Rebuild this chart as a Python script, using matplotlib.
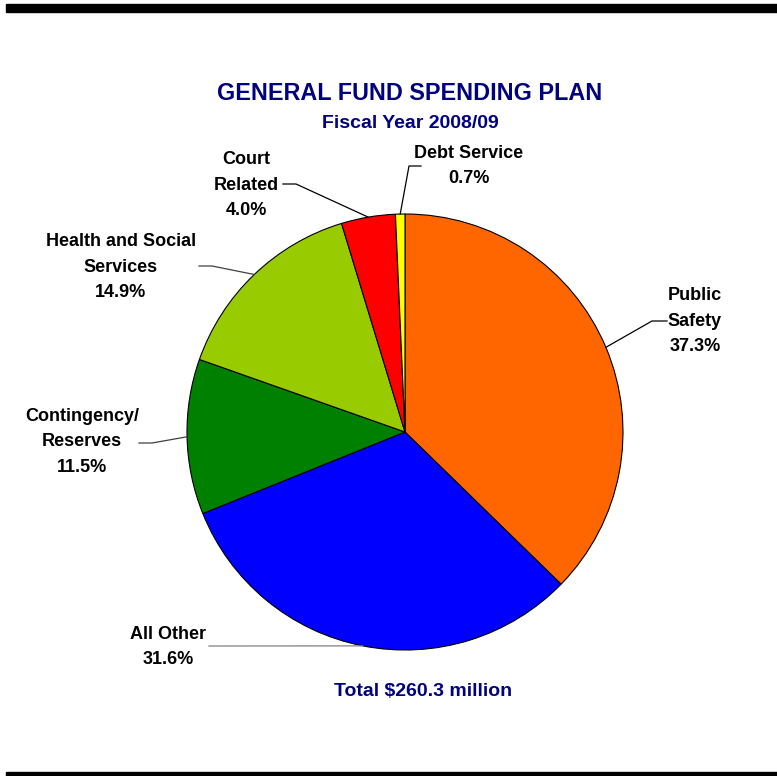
import numpy as np
import matplotlib
matplotlib.use("Agg")
import matplotlib.pyplot as plt
from matplotlib.patches import Rectangle

categories = ["Public Safety", "All Other", "Contingency/ Reserves",
              "Health and Social Services", "Court Related", "Debt Service"]
values = [37.3, 31.6, 11.5, 14.9, 4.0, 0.7]
label_texts = ["Public\nSafety\n37.3%", "All Other\n31.6%", "Contingency/\nReserves\n11.5%",
               "Health and Social\nServices\n14.9%", "Court\nRelated\n4.0%", "Debt Service\n0.7%"]
colors = ["#FF6600", "#0000FF", "#008000", "#99CC00", "#FF0000", "#FFFF00"]

W, H = 777, 776
fig = plt.figure(figsize=(W / 100, H / 100), dpi=100)
plt.rcParams['font.family'] = ['Liberation Sans', 'DejaVu Sans']

cx, cy, R = 405, 432, 218
ax = fig.add_axes([(cx - R) / W, 1 - (cy + R) / H, 2 * R / W, 2 * R / H])

wedges, _ = ax.pie(values, colors=colors, startangle=90, counterclock=False, radius=1,
                   wedgeprops=dict(edgecolor='black', linewidth=0.8))
ax.set_xlim(-1, 1)
ax.set_ylim(-1, 1)
ax.set_aspect('equal')
ax.axis('off')
for w in wedges:
    w.set_clip_on(False)

def P(px, py):
    return ((px - cx) / R, (cy - py) / R)

# label layout: text center (px), elbow points (px), line color
layout = [
    dict(text=(695, 321), path=[(652, 321), (667, 321)], color='black'),
    dict(text=(168, 647), path=[(209, 646)], color='#808080'),
    dict(text=(82, 442), path=[(152, 443), (139, 443)], color='#404040'),
    dict(text=(121, 267), path=[(212, 266), (199, 266)], color='#404040'),
    dict(text=(246, 185), path=[(296, 184), (283, 184)], color='black'),
    dict(text=(469, 166), path=[(409, 166), (421, 166)], color='black'),
]

for w, txt, lay in zip(wedges, label_texts, layout):
    ang = np.deg2rad((w.theta1 + w.theta2) / 2)
    pts = [(np.cos(ang), np.sin(ang))] + [P(*p) for p in lay['path']]
    xs, ys = zip(*pts)
    ax.plot(xs, ys, color=lay['color'], lw=0.9, clip_on=False, zorder=3)
    tx, ty = P(*lay['text'])
    ax.text(tx, ty, txt, ha='center', va='center', fontsize=13, fontweight='bold',
            linespacing=1.68, color='black', clip_on=False)

navy = '#000080'
fig.text(410 / W, 1 - 93 / H, "GENERAL FUND SPENDING PLAN", ha='center', va='center',
         fontsize=16.8, fontweight='bold', color=navy)
fig.text(410 / W, 1 - 123 / H, "Fiscal Year 2008/09", ha='center', va='center',
         fontsize=14, fontweight='bold', color=navy)
fig.text(423 / W, 1 - 692 / H, "Total $260.3 million", ha='center', va='center',
         fontsize=14, fontweight='bold', color=navy)

fig.patches.append(Rectangle((6 / W, 1 - 12 / H), 1, 8 / H, transform=fig.transFigure,
                             color='black', zorder=0))
fig.patches.append(Rectangle((6 / W, 0), 1, 4.5 / H, transform=fig.transFigure,
                             color='black', zorder=0))

fig.savefig("out.png", dpi=100)
